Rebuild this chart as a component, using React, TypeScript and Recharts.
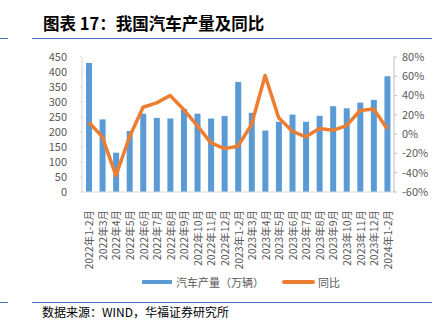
import React from "react";
import {
  ComposedChart,
  Bar,
  Line,
  XAxis,
  YAxis,
} from "recharts";

// 月份
const months = [
  "2022年1-2月", "2022年3月", "2022年4月", "2022年5月", "2022年6月", "2022年7月",
  "2022年8月", "2022年9月", "2022年10月", "2022年11月", "2022年12月",
  "2023年1-2月", "2023年3月", "2023年4月", "2023年5月", "2023年6月", "2023年7月",
  "2023年8月", "2023年9月", "2023年10月", "2023年11月", "2023年12月",
  "2024年1-2月",
];

// 汽车产量（万辆）
const output = [
  430, 242, 131, 203, 261, 247, 245, 277, 261, 245, 253,
  367, 264, 205, 234, 258, 234, 254, 286, 279, 298, 307, 386,
];

// 同比（%）
const yoy = [
  12.3, -2.8, -43, -3, 27.9, 32.4, 40, 25.5, 8.9, -9, -15,
  -12.5, 10, 60.8, 16.9, 3, -2.8, 5.8, 4, 8.9, 24.5, 26, 5.5,
];

const leftTicks = [0, 50, 100, 150, 200, 250, 300, 350, 400, 450];
const rightTicks = [-60, -40, -20, 0, 20, 40, 60, 80];

const data = months.map((m, i) => ({ month: m, output: output[i], yoy: yoy[i] }));

const FONT = '"Noto Sans CJK SC", "Noto Sans", sans-serif';
const BLUE = "#5B9BD5";
const ORANGE = "#ED7D31";
const GREY = "#595959";
const RULE = "#4472C4";

// 竖排的横轴标签
const MonthTick = (props: any) => {
  const { x, y, payload } = props;
  const ty = y + 10;
  return (
    <text
      x={x}
      y={ty}
      transform={`rotate(-90, ${x}, ${ty})`}
      textAnchor="end"
      dominantBaseline="central"
      fontSize={10.5}
      fill={GREY}
      fontFamily={FONT}
    >
      {payload.value}
    </text>
  );
};

const App: React.FC = () => {
  return (
    <div
      style={{
        position: "absolute",
        left: 0,
        top: 0,
        width: 439,
        height: 326,
        background: "#fff",
        fontFamily: FONT,
        overflow: "hidden",
      }}
    >
      {/* 标题 */}
      <div
        style={{
          position: "absolute",
          left: 43,
          top: 12,
          fontSize: 16.5,
          fontWeight: 700,
          color: "#000",
          lineHeight: "22px",
          whiteSpace: "nowrap",
        }}
      >
        图表 17：我国汽车产量及同比
      </div>
      <div style={{ position: "absolute", left: 0, top: 38, width: 8, height: 1, background: RULE }} />
      <div style={{ position: "absolute", left: 32, top: 38, width: 400, height: 1, background: RULE }} />

      <div style={{ position: "absolute", left: 0, top: 0 }}>
        <ComposedChart
          width={439}
          height={276}
          data={data}
          margin={{ top: 57, right: 0, left: 0, bottom: 14 }}
          barCategoryGap={0}
        >
          <XAxis
            dataKey="month"
            interval={0}
            height={70}
            tick={<MonthTick />}
            tickLine={false}
            axisLine={{ stroke: "#D9D9D9" }}
          />
          <YAxis
            yAxisId="left"
            orientation="left"
            width={82}
            domain={[0, 450]}
            ticks={leftTicks}
            interval={0}
            tickSize={2}
            tickMargin={13}
            tickLine={{ stroke: "#D9D9D9" }}
            axisLine={{ stroke: "#D9D9D9" }}
            tick={{ fontSize: 11, fill: GREY, fontFamily: FONT }}
          />
          <YAxis
            yAxisId="right"
            orientation="right"
            width={45}
            domain={[-60, 80]}
            ticks={rightTicks}
            interval={0}
            tickSize={3}
            tickMargin={5}
            tickLine={{ stroke: "#BFBFBF" }}
            axisLine={{ stroke: "#BFBFBF" }}
            tickFormatter={(v: number) => `${v}%`}
            tick={{ fontSize: 11, fill: GREY, fontFamily: FONT }}
          />
          <Bar
            yAxisId="left"
            dataKey="output"
            name="汽车产量（万辆）"
            fill={BLUE}
            barSize={6}
            isAnimationActive={false}
          />
          <Line
            yAxisId="right"
            type="linear"
            dataKey="yoy"
            name="同比"
            stroke={ORANGE}
            strokeWidth={3.5}
            strokeLinejoin="round"
            dot={false}
            activeDot={false}
            isAnimationActive={false}
          />
        </ComposedChart>
      </div>

      {/* 图例 */}
      <div style={{ position: "absolute", left: 142, top: 280, width: 30, height: 4, background: BLUE }} />
      <div
        style={{
          position: "absolute",
          left: 176,
          top: 274,
          fontSize: 11,
          lineHeight: "16px",
          color: GREY,
          whiteSpace: "nowrap",
        }}
      >
        汽车产量（万辆）
      </div>
      <div
        style={{
          position: "absolute",
          left: 282,
          top: 280,
          width: 33,
          height: 3.5,
          borderRadius: 2,
          background: ORANGE,
        }}
      />
      <div
        style={{
          position: "absolute",
          left: 318,
          top: 274,
          fontSize: 11,
          lineHeight: "16px",
          color: GREY,
          whiteSpace: "nowrap",
        }}
      >
        同比
      </div>

      <div style={{ position: "absolute", left: 0, top: 302, width: 8, height: 1, background: RULE }} />
      <div style={{ position: "absolute", left: 32, top: 302, width: 400, height: 1, background: RULE }} />
      {/* 数据来源 */}
      <div
        style={{
          position: "absolute",
          left: 42,
          top: 304,
          fontSize: 12,
          lineHeight: "16px",
          color: "#000",
          whiteSpace: "nowrap",
        }}
      >
        数据来源：WIND，华福证券研究所
      </div>
    </div>
  );
};

export default App;
